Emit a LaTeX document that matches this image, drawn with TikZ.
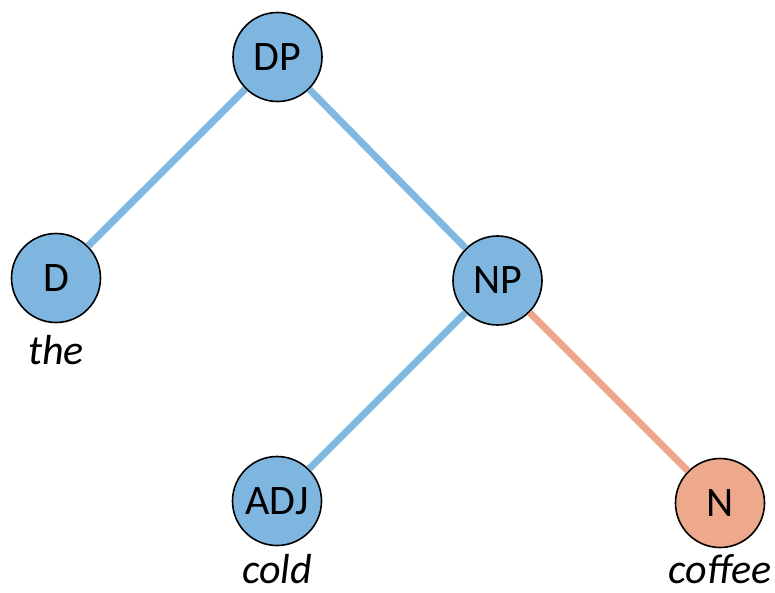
\documentclass[tikz,border=0pt]{standalone}
\usepackage{fontspec}
\setmainfont{Carlito}
\definecolor{bfill}{RGB}{126,182,224}
\definecolor{bline}{RGB}{128,184,226}
\definecolor{ofill}{RGB}{238,168,140}
\definecolor{oline}{RGB}{236,166,138}
\begin{document}
\begin{tikzpicture}[x=1pt,y=-1pt,
  tnode/.style={circle,draw=black,line width=1.6pt,minimum size=89pt,inner sep=0pt,font=\fontsize{42}{44}\selectfont},
  bnode/.style={tnode,fill=bfill},
  onode/.style={tnode,fill=ofill},
  bedge/.style={draw=bline,line width=7pt},
  oedge/.style={draw=oline,line width=7pt},
  word/.style={font=\fontsize{42}{44}\selectfont\itshape,inner sep=0pt}]
\useasboundingbox (0,0) rectangle (775,593);
\node[bnode] (DP) at (277.5,57) {DP};
\node[bnode] (D) at (56,278) {D};
\node[bnode] (NP) at (497.5,280.5) {NP};
\node[bnode] (ADJ) at (277,501) {ADJ};
\node[onode] (N) at (720,503) {N};
\node[word] (the) at (56,350) {the};
\node[word] (cold) at (277,569) {cold};
\node[word] (coffee) at (720,569) {coffee};
\path[bedge] (DP) -- (D);
\path[bedge] (DP) -- (NP);
\path[bedge] (NP) -- (ADJ);
\path[oedge] (NP) -- (N);
\end{tikzpicture}
\end{document}
